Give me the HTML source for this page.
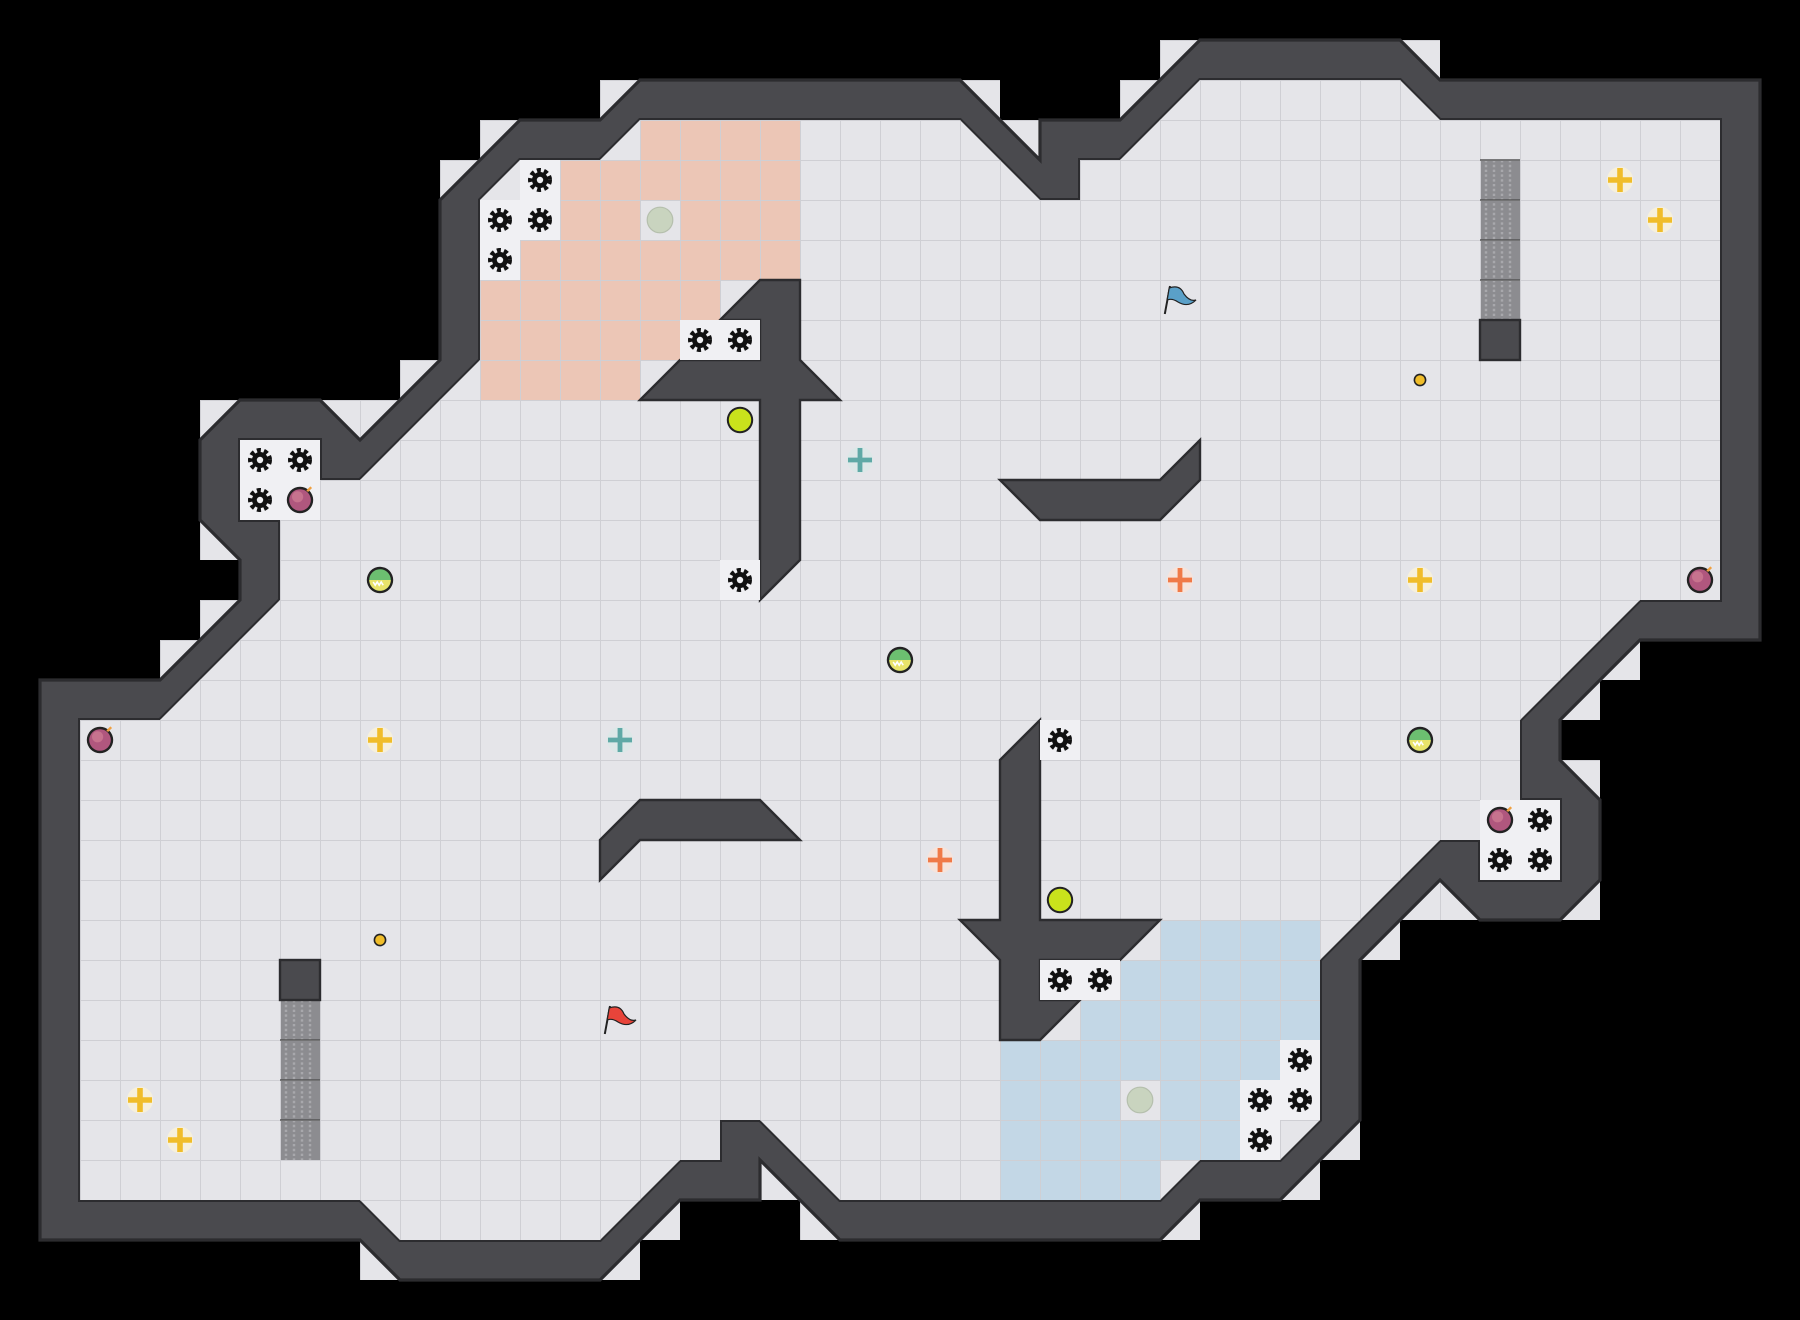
<!DOCTYPE html>
<html><head><meta charset="utf-8"><style>html,body{margin:0;padding:0;background:#000}svg{display:block}</style></head>
<body>
<svg width="1800" height="1320" viewBox="0 0 1800 1320" xmlns="http://www.w3.org/2000/svg">
<defs>
<pattern id="grid" patternUnits="userSpaceOnUse" width="1" height="1">
<path d="M1,0 L0,0 L0,1" fill="none" stroke="#cfcfd4" stroke-width="0.05"/>
</pattern>
<path id="F" d="M16,3 L24,3 L26,5 L27,5 L27,4 L28,4 L30,2 L35,2 L36,3 L43,3 L43,15 L41,15 L38,18 L38,20 L39,20 L39,22 L37,22 L37,21 L36,21 L33,24 L33,28 L32,29 L30,29 L29,30 L21,30 L19,28 L18,28 L18,29 L17,29 L15,31 L10,31 L9,30 L2,30 L2,18 L4,18 L7,15 L7,13 L6,13 L6,11 L8,11 L8,12 L9,12 L12,9 L12,5 L13,4 L15,4 Z"/>
<path id="O" d="M16,2 L24,2 L26,4 L26,3 L28,3 L30,1 L35,1 L36,2 L44,2 L44,16 L41,16 L39,18 L39,19 L40,20 L40,22 L39,23 L37,23 L36,22 L34,24 L34,28 L32,30 L30,30 L29,31 L21,31 L19,29 L19,30 L17,30 L15,32 L10,32 L9,31 L1,31 L1,17 L4,17 L6,15 L6,14 L5,13 L5,11 L6,10 L8,10 L9,11 L11,9 L11,5 L13,3 L15,3 Z"/>
<g id="LC">
<rect x="24" y="2" width="1" height="1"/><rect x="25" y="3" width="1" height="1"/>
<rect x="28" y="2" width="1" height="1"/><rect x="29" y="1" width="1" height="1"/>
<rect x="35" y="1" width="1" height="1"/>
<rect x="40" y="16" width="1" height="1"/><rect x="39" y="17" width="1" height="1"/>
<rect x="39" y="19" width="1" height="1"/><rect x="39" y="22" width="1" height="1"/>
<rect x="36" y="22" width="1" height="1"/><rect x="35" y="22" width="1" height="1"/><rect x="34" y="23" width="1" height="1"/>
<rect x="33" y="28" width="1" height="1"/><rect x="32" y="29" width="1" height="1"/>
<rect x="29" y="30" width="1" height="1"/>
<rect x="20" y="30" width="1" height="1"/><rect x="19" y="29" width="1" height="1"/>
<rect x="16" y="30" width="1" height="1"/><rect x="15" y="31" width="1" height="1"/>
<rect x="9" y="31" width="1" height="1"/>
<rect x="4" y="16" width="1" height="1"/><rect x="5" y="15" width="1" height="1"/>
<rect x="5" y="13" width="1" height="1"/><rect x="5" y="10" width="1" height="1"/>
<rect x="8" y="10" width="1" height="1"/><rect x="9" y="10" width="1" height="1"/><rect x="10" y="9" width="1" height="1"/>
<rect x="11" y="4" width="1" height="1"/><rect x="12" y="3" width="1" height="1"/>
<rect x="15" y="2" width="1" height="1"/>
</g>
<g id="gear">
<rect x="-0.5" y="-0.5" width="1" height="1" fill="#f0f0f3"/>
<circle r="0.22" fill="none" stroke="#111" stroke-width="0.16" stroke-dasharray="0.09 0.07"/>
<circle r="0.2" fill="#111"/>
<circle r="0.08" fill="#f0f0f3"/>
</g>
<g id="ycross"><circle r="0.33" fill="#f6f0dc"/><path d="M-0.3,0 H0.3 M0,-0.3 V0.3" stroke="#f0bd2a" stroke-width="0.14"/></g>
<g id="ocross"><circle r="0.33" fill="#f6e4dc"/><path d="M-0.3,0 H0.3 M0,-0.3 V0.3" stroke="#f07a48" stroke-width="0.12"/></g>
<g id="tcross"><circle r="0.33" fill="#dde8e8"/><path d="M-0.3,0 H0.3 M0,-0.3 V0.3" stroke="#5fa9a6" stroke-width="0.12"/></g>
<g id="bomb"><circle r="0.33" fill="#222"/><circle r="0.27" fill="#b0577e"/><circle cx="-0.06" cy="-0.08" r="0.14" fill="#c7738e"/><path d="M0.18,-0.22 l0.1,-0.1" stroke="#f0a040" stroke-width="0.06"/></g>
<g id="gball"><circle r="0.33" fill="#222"/><circle r="0.27" fill="#6cbf70"/><path d="M-0.27,0 A0.27,0.27 0 0 0 0.27,0 Z" fill="#e9e36a"/><path d="M-0.17,0.05 l0.05,0.08 l0.05,-0.08 l0.05,0.08 l0.05,-0.08 l0.05,0.08" fill="none" stroke="#fff" stroke-width="0.04"/></g>
<g id="ygc"><circle r="0.33" fill="#222"/><circle r="0.28" fill="#c9e21c"/></g>
<g id="grc"><circle r="0.32" fill="#c9d4bf" stroke="#b5bfad" stroke-width="0.03"/></g>
<g id="dot"><circle r="0.16" fill="#222"/><circle r="0.12" fill="#f0bd2a"/></g>
</defs>
<rect width="1800" height="1320" fill="#000"/>
<g transform="scale(40)">
<use href="#LC" fill="#e5e5e9"/>
<use href="#LC" fill="url(#grid)"/>
<use href="#O" fill="#4a4a4e" stroke="#2c2c2f" stroke-width="0.08" stroke-linejoin="miter"/>
<use href="#F" fill="#e5e5e9" stroke="#2c2c2f" stroke-width="0.1"/>
<use href="#F" fill="#e5e5e9"/>
<!-- salmon -->
<g fill="#ecc6b6">
<rect x="16" y="3" width="4" height="1"/><rect x="14" y="4" width="6" height="2"/>
<rect x="13" y="6" width="7" height="1"/><rect x="12" y="7" width="6" height="1"/>
<rect x="12" y="8" width="5" height="1"/><rect x="12" y="9" width="4" height="1"/>
</g>
<!-- blue -->
<g fill="#c3d7e6">
<rect x="29" y="23" width="4" height="1"/><rect x="28" y="24" width="5" height="1"/>
<rect x="27" y="25" width="6" height="1"/><rect x="25" y="26" width="7" height="1"/>
<rect x="25" y="27" width="6" height="1"/><rect x="25" y="28" width="6" height="1"/>
<rect x="25" y="29" width="4" height="1"/>
</g>
<rect x="16" y="5" width="1" height="1" fill="#e5e5e9"/>
<rect x="28" y="27" width="1" height="1" fill="#e5e5e9"/>
<!-- dotted blocks -->
<g fill="#8c8c90">
<rect x="37" y="4" width="1" height="4"/><rect x="7" y="25" width="1" height="4"/>
</g>
<g fill="none" stroke="#a8a8ac" stroke-width="0.06" stroke-dasharray="0.06 0.06">
<path d="M37.15,4 V8 M37.35,4 V8 M37.55,4 V8 M37.75,4 V8 M7.15,25 V29 M7.35,25 V29 M7.55,25 V29 M7.75,25 V29"/>
</g>
<use href="#F" fill="url(#grid)"/>
<g stroke="#555" stroke-width="0.04"><path d="M37,4 h1 M37,5 h1 M37,6 h1 M37,7 h1 M7,26 h1 M7,27 h1 M7,28 h1"/></g>
<!-- interior walls -->
<g fill="#4a4a4e" stroke="#2c2c2f" stroke-width="0.06" stroke-linejoin="miter">
<path d="M16,10 L17,9 L19,9 L19,8 L18,8 L19,7 L20,7 L20,9 L21,10 L20,10 L20,14 L19,15 L19,10 Z"/>
<path d="M25,12 L29,12 L30,11 L30,12 L29,13 L26,13 Z"/>
<path d="M15,21 L16,20 L19,20 L20,21 L16,21 L15,22 Z"/>
<path d="M25,19 L26,18 L26,23 L29,23 L28,24 L26,24 L26,25 L27,25 L26,26 L25,26 L25,24 L24,23 L25,23 Z"/>
<rect x="37" y="8" width="1" height="1"/>
<rect x="7" y="24" width="1" height="1"/>
</g>
<!-- gears -->
<use href="#gear" x="13.5" y="4.5"/><use href="#gear" x="12.5" y="5.5"/><use href="#gear" x="13.5" y="5.5"/><use href="#gear" x="12.5" y="6.5"/>
<use href="#gear" x="17.5" y="8.5"/><use href="#gear" x="18.5" y="8.5"/>
<use href="#gear" x="6.5" y="11.5"/><use href="#gear" x="7.5" y="11.5"/><use href="#gear" x="6.5" y="12.5"/>
<use href="#gear" x="18.5" y="14.5"/><use href="#gear" x="26.5" y="18.5"/>
<use href="#gear" x="26.5" y="24.5"/><use href="#gear" x="27.5" y="24.5"/>
<use href="#gear" x="32.5" y="26.5"/><use href="#gear" x="31.5" y="27.5"/><use href="#gear" x="32.5" y="27.5"/><use href="#gear" x="31.5" y="28.5"/>
<use href="#gear" x="38.5" y="20.5"/><use href="#gear" x="37.5" y="21.5"/><use href="#gear" x="38.5" y="21.5"/>
<rect x="7" y="12" width="1" height="1" fill="#f0f0f3"/><rect x="37" y="20" width="1" height="1" fill="#f0f0f3"/>
<!-- items -->
<use href="#grc" x="16.5" y="5.5"/><use href="#grc" x="28.5" y="27.5"/>
<use href="#ygc" x="18.5" y="10.5"/><use href="#ygc" x="26.5" y="22.5"/>
<use href="#tcross" x="21.5" y="11.5"/><use href="#tcross" x="15.5" y="18.5"/>
<use href="#ycross" x="40.5" y="4.5"/><use href="#ycross" x="41.5" y="5.5"/><use href="#ycross" x="9.5" y="18.5"/><use href="#ycross" x="35.5" y="14.5"/><use href="#ycross" x="3.5" y="27.5"/><use href="#ycross" x="4.5" y="28.5"/>
<use href="#ocross" x="29.5" y="14.5"/><use href="#ocross" x="23.5" y="21.5"/>
<use href="#bomb" x="7.5" y="12.5"/><use href="#bomb" x="2.5" y="18.5"/><use href="#bomb" x="42.5" y="14.5"/><use href="#bomb" x="37.5" y="20.5"/>
<use href="#gball" x="9.5" y="14.5"/><use href="#gball" x="22.5" y="16.5"/><use href="#gball" x="35.5" y="18.5"/>
<use href="#dot" x="35.5" y="9.5"/><use href="#dot" x="9.5" y="23.5"/>
<!-- flags -->
<g transform="translate(29.5,7.5)"><path d="M-0.38,0.35 L-0.25,-0.35" stroke="#222" stroke-width="0.05"/><path d="M-0.27,-0.3 Q0,-0.4 0.1,-0.15 Q0.25,0.05 0.4,0 Q0.2,0.2 -0.05,0.05 Q-0.2,-0.05 -0.32,0 Z" fill="#5aa0c8" stroke="#222" stroke-width="0.03"/></g>
<g transform="translate(15.5,25.5)"><path d="M-0.38,0.35 L-0.25,-0.35" stroke="#222" stroke-width="0.05"/><path d="M-0.27,-0.3 Q0,-0.4 0.1,-0.15 Q0.25,0.05 0.4,0 Q0.2,0.2 -0.05,0.05 Q-0.2,-0.05 -0.32,0 Z" fill="#e8443a" stroke="#222" stroke-width="0.03"/></g>
</g>
</svg>
</body></html>
